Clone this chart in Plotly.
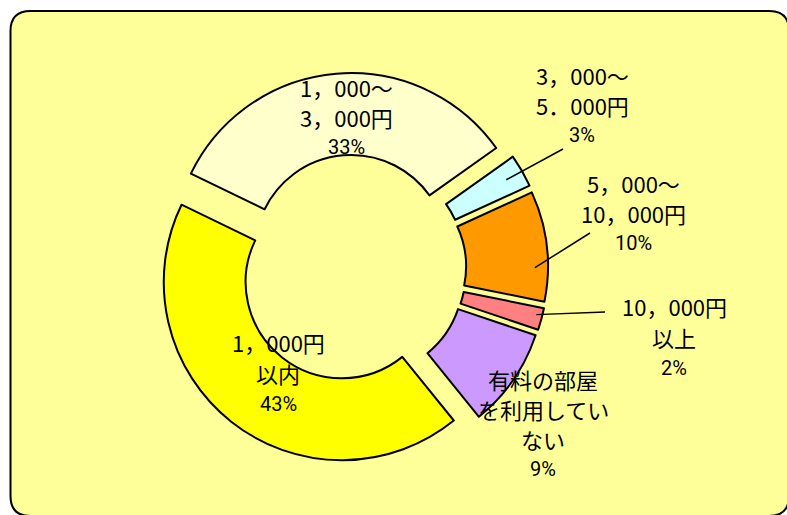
import math
import plotly.graph_objects as go

# ---------------- data ----------------
categories = ["1，000円以内", "1，000～3，000円", "3，000～5，000円",
              "5，000～10，000円", "10，000円以上", "有料の部屋を利用していない"]
values = [43, 33, 3, 10, 2, 9]
label_lines = [
    ["1，000円", "以内"],
    ["1，000～", "3，000円"],
    ["3，000～", "5．000円"],
    ["5，000～", "10，000円"],
    ["10，000円", "以上"],
    ["有料の部屋", "を利用してい", "ない"],
]
colors = ["#FFFF00", "#FFFFCC", "#CCFFFF", "#FF9900", "#FF8080", "#CC99FF"]

# ---------------- layout constants ----------------
W, H = 787, 515
CX, CY = 352.6, 268.5      # pie centre (px)
R = 178.0                  # outer radius (px)
PULL = 0.098
HOLE = 0.54
ROT = 141.0
FS = 22                    # label font size

# label block: centre x, first line centre y, line spacing (px)
label_pos = [(278, 342, 31), (346, 87, 30), (582, 75, 30),
             (633, 183, 30), (674, 306, 31), (543, 379, 30)]
# leader lines: slice index -> (tail x, tail y, tip radius, tip angle offset deg)
leaders = {2: (563, 149, 160, 0), 3: (590, 233, 165, 7), 4: (605, 312, 172, -1)}

CJK = "Noto Sans CJK JP"


def px(x):
    return x / W


def py(y):
    return 1 - y / H


half = R * (1 + PULL)
fig = go.Figure(go.Pie(
    labels=categories,
    values=values,
    sort=False,
    direction="clockwise",
    rotation=ROT,
    hole=HOLE,
    pull=[PULL] * len(values),
    marker=dict(colors=colors, line=dict(color="#000000", width=2)),
    textinfo="none",
    hoverinfo="label+percent",
    showlegend=False,
    domain=dict(x=[px(CX - half), px(CX + half)], y=[py(CY + half), py(CY - half)]),
))

total = sum(values)
annotations = []
for i, lines in enumerate(label_lines):
    xc, y0, sp = label_pos[i]
    pct = "%d%%" % round(values[i] / total * 100)
    for k, t in enumerate(lines):
        annotations.append(dict(x=px(xc), y=py(y0 + k * sp), xref="paper", yref="paper",
                                text=t, showarrow=False, xanchor="center", yanchor="middle",
                                font=dict(family=CJK, size=FS, color="#000000")))
    annotations.append(dict(x=px(xc), y=py(y0 + len(lines) * sp), xref="paper", yref="paper",
                            text=pct, showarrow=False, xanchor="center", yanchor="middle",
                            font=dict(family="Roboto", size=20, color="#000000")))

# leader lines, tips placed on the slice
shapes = []
cum = 0.0
mids = []
for v in values:
    a0 = ROT + cum / total * 360
    cum += v
    a1 = ROT + cum / total * 360
    mids.append((a0 + a1) / 2)
for i, (tx, ty, rho, dang) in leaders.items():
    m = math.radians(mids[i])
    ecx = CX + PULL * R * math.sin(m)
    ecy = CY - PULL * R * math.cos(m)
    a = math.radians(mids[i] + dang)
    x_tip = ecx + rho * math.sin(a)
    y_tip = ecy - rho * math.cos(a)
    shapes.append(dict(type="line", xref="paper", yref="paper",
                       x0=px(x_tip), y0=py(y_tip), x1=px(tx), y1=py(ty),
                       line=dict(color="#000000", width=1.5), layer="above"))

# rounded frame
L, T, Rt, B, rad = 10.5, 11.0, 789.0, 516.0, 20.0
path = ("M {a},{b} L {c},{b} Q {d},{b} {d},{e} L {d},{f} Q {d},{g} {c},{g} "
        "L {a},{g} Q {h},{g} {h},{f} L {h},{e} Q {h},{b} {a},{b} Z").format(
    a=px(L + rad), b=py(T), c=px(Rt - rad), d=px(Rt), e=py(T + rad),
    f=py(B - rad), g=py(B), h=px(L))
shapes.insert(0, dict(type="path", xref="paper", yref="paper", path=path,
                      fillcolor="#FFFF99", line=dict(color="#000000", width=2), layer="below"))

fig.update_layout(
    width=W, height=H,
    margin=dict(l=0, r=0, t=0, b=0),
    paper_bgcolor="#FFFFFF",
    plot_bgcolor="#FFFFFF",
    shapes=shapes,
    annotations=annotations,
)

fig.write_html("out.html",
               config={"displayModeBar": False},
               post_script="document.body.style.margin='0';document.body.style.overflow='hidden';")
